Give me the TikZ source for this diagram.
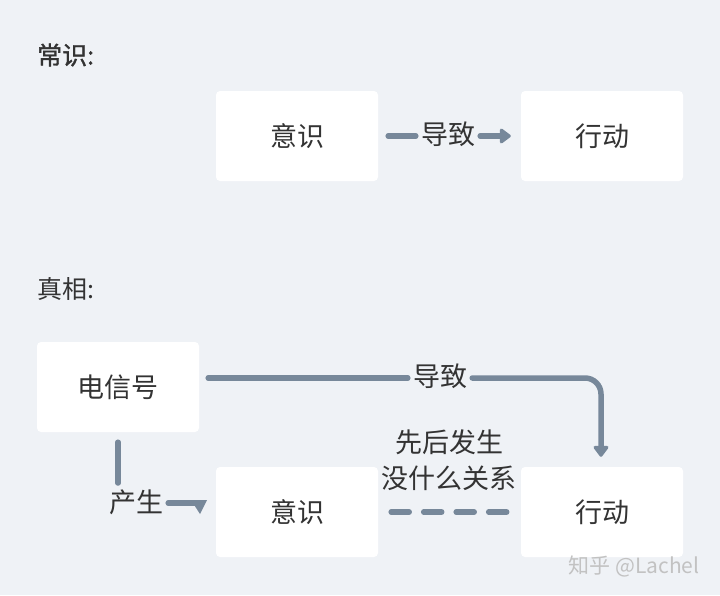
\documentclass[tikz,border=0pt]{standalone}
\usepackage{fontspec}
\setmainfont{Noto Sans CJK SC}
\newfontfamily\medfont[FakeBold=1.2]{Noto Sans CJK SC}
\usetikzlibrary{arrows.meta}
\definecolor{bg}{HTML}{EFF2F6}
\definecolor{conn}{HTML}{77889A}
\definecolor{txt}{HTML}{333333}
\tikzset{
  box/.style={fill=white, rounded corners=4pt, minimum width=162pt, minimum height=90pt, inner sep=0pt, text=txt, font=\fontsize{27}{32}\selectfont},
  lab/.style={text=txt, inner sep=3pt, font=\fontsize{27}{32}\selectfont},
  head/.style={text=txt, inner sep=0pt, anchor=west, font=\fontsize{25}{30}\selectfont},
  line/.style={draw=conn, line width=5.5pt, line cap=round},
  arr/.style={line, -{Triangle[length=12pt,width=17pt,round]}},
  wm/.style={inner sep=0pt, font=\fontsize{21}{26}\selectfont},
}
\begin{document}
\begin{tikzpicture}[x=1pt,y=-1pt]
\fill[bg] (0,0) rectangle (720,595);
\useasboundingbox (0,0) rectangle (720,595);

\node[head, font=\fontsize{25}{30}\medfont] (h1) at (37,55) {常识:};
\node[head] (h2) at (37,289) {真相:};

\node[box] (a1) at (297,136) {意识};
\node[box] (b1) at (602,136) {行动};
\node[box] (c) at (118,387) {电信号};
\node[box] (a2) at (297,512) {意识};
\node[box] (b2) at (602,512) {行动};

% top connector
\node[lab] (t1) at (448,134) {导致};
\draw[line, shorten <=10pt, shorten >=2pt] (a1.east) -- (a1.east -| t1.west);
\draw[arr, shorten <=2pt, shorten >=10pt] (t1.east |- b1.west) -- (b1.west);

% electric signal -> action
\node[lab] (t2) at (440,376) {导致};
\coordinate (k2) at (601,378);
\draw[line, shorten <=9pt, shorten >=2pt] (c.east |- k2) -- (k2 -| t2.west);
\draw[arr, rounded corners=16pt, shorten >=10pt] ([xshift=2pt]k2 -| t2.east) -- (k2) -- (b2.north -| k2);

% electric signal -> consciousness
\coordinate (k3) at (118,483);
\node[lab] (t3) at (136,502) {产生};
\coordinate (k4) at (198,503);
\draw[line, shorten <=10pt] (c.south) -- (k3);
\draw[line, shorten <=2pt] (t3.east |- k4) -- (k4);
\fill[conn] (191,500) -- (207,500) -- (200,514) -- cycle;

% unrelated
\node[lab, align=center, font=\fontsize{27}{36}\selectfont] (t4) at (449,460) {先后发生\\没什么关系};
\draw[line, dash pattern=on 18pt off 14.5pt, shorten <=13pt, shorten >=13pt] (a2.east) -- (b2.west);

% watermark
\node[wm, text=black!24] (w) at (634,566) {知乎 @Lachel};
\end{tikzpicture}
\end{document}
